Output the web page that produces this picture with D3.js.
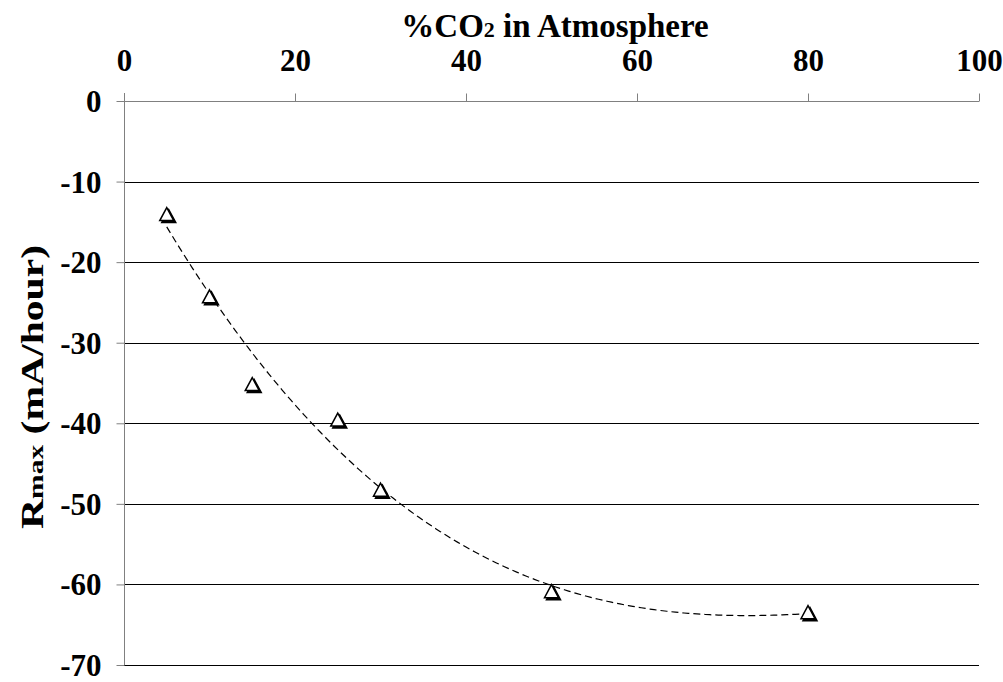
<!DOCTYPE html>
<html>
<head>
<meta charset="utf-8">
<script src="https://cdn.jsdelivr.net/npm/d3@7"></script>
<style>
  html, body { margin: 0; padding: 0; background: #fff; }
  svg { display: block; }
</style>
</head>
<body>
<svg id="chart" width="1003" height="682"></svg>
<script>
// Measured CO2 concentration (%) and the corresponding Rmax (mA/hour)
const co2Percent = [5, 10, 15, 25, 30, 50, 80];
const rMax = [-14.1, -24.3, -35.2, -39.6, -48.3, -60.9, -63.5];

const xTicks = [0, 20, 40, 60, 80, 100];
const yTicks = [0, -10, -20, -30, -40, -50, -60, -70];

const W = 1003, H = 682;
const margin = { left: 124, right: 24, top: 101, bottom: 17 };
const FONT = "'Liberation Serif', 'Times New Roman', Times, serif";

const svg = d3.select("#chart");
svg.append("rect").attr("width", W).attr("height", H).attr("fill", "#fff");

const x = d3.scaleLinear().domain([0, 100]).range([margin.left, W - margin.right]);
const y = d3.scaleLinear().domain([0, -70]).range([margin.top, H - margin.bottom]);

// Horizontal gridlines
svg.append("g")
  .selectAll("line")
  .data(yTicks.filter(v => v !== 0))
  .join("line")
  .attr("x1", x(0)).attr("x2", x(100))
  .attr("y1", d => Math.round(y(d)) + 0.5).attr("y2", d => Math.round(y(d)) + 0.5)
  .attr("stroke", "#000").attr("stroke-width", 1);

// Top axis (x)
const xAxis = svg.append("g")
  .attr("transform", `translate(0,${Math.round(y(0)) + 0.5})`)
  .call(d3.axisTop(x).tickValues(xTicks).tickSize(8).tickFormat(d => String(d)));
xAxis.attr("font-family", FONT).attr("font-size", 31).attr("font-weight", "bold");
xAxis.selectAll("path, line").attr("stroke", "#808080");
xAxis.select(".domain").attr("d", `M${x(0)},0H${x(100)}`);
xAxis.selectAll("text").attr("y", -31).attr("fill", "#000");

// Left axis (y)
const yAxis = svg.append("g")
  .attr("transform", `translate(${Math.round(x(0)) + 0.5},0)`)
  .call(d3.axisLeft(y).tickValues(yTicks).tickSize(8).tickFormat(d => String(d)));
yAxis.attr("font-family", FONT).attr("font-size", 31).attr("font-weight", "bold");
yAxis.selectAll("path, line").attr("stroke", "#808080");
yAxis.select(".domain").attr("d", `M0,${y(0) - 8}V${y(-70)}`);
yAxis.selectAll("text").attr("x", -23).attr("dy", "0.34em").attr("fill", "#000");

// Axis titles
const title = svg.append("text")
  .attr("x", 555)
  .attr("y", 37)
  .attr("text-anchor", "middle")
  .attr("font-family", FONT)
  .attr("font-weight", "bold")
  .attr("font-size", 33);
title.append("tspan").text("%CO");
title.append("tspan").attr("font-size", 22).text("2");
title.append("tspan").text(" in Atmosphere");

const yTitle = svg.append("text")
  .attr("transform", `translate(43,${(y(0) + y(-70)) / 2 + 4}) rotate(-90)`)
  .attr("text-anchor", "middle")
  .attr("font-family", FONT)
  .attr("font-weight", "bold")
  .attr("font-size", 31)
  .attr("textLength", 284)
  .attr("lengthAdjust", "spacingAndGlyphs");
yTitle.append("tspan").text("R");
yTitle.append("tspan").attr("font-size", 22).text("max");
yTitle.append("tspan").text(" (mA/hour)");

// Polynomial (order 3) least-squares trend through the measurements
function polyFit(xs, ys, order) {
  const n = order + 1;
  const A = Array.from({ length: n }, () => new Array(n + 1).fill(0));
  for (let i = 0; i < xs.length; i++) {
    for (let r = 0; r < n; r++) {
      for (let c = 0; c < n; c++) A[r][c] += Math.pow(xs[i], r + c);
      A[r][n] += ys[i] * Math.pow(xs[i], r);
    }
  }
  for (let col = 0; col < n; col++) {
    let piv = col;
    for (let r = col + 1; r < n; r++) if (Math.abs(A[r][col]) > Math.abs(A[piv][col])) piv = r;
    [A[col], A[piv]] = [A[piv], A[col]];
    for (let r = 0; r < n; r++) {
      if (r === col) continue;
      const f = A[r][col] / A[col][col];
      for (let c = col; c <= n; c++) A[r][c] -= f * A[col][c];
    }
  }
  return A.map((row, i) => row[n] / row[i]);
}
const coef = polyFit(co2Percent, rMax, 3);
const trendY = v => coef.reduce((s, c, i) => s + c * Math.pow(v, i), 0);
const xMin = d3.min(co2Percent), xMax = d3.max(co2Percent);
const trendPts = d3.range(xMin, xMax + 0.001, 0.5).map(v => [v, trendY(v)]);

svg.append("path")
  .datum(trendPts)
  .attr("d", d3.line().x(d => x(d[0])).y(d => y(d[1])))
  .attr("fill", "none")
  .attr("stroke", "#000")
  .attr("stroke-width", 1.2)
  .attr("stroke-dasharray", "7,4");

// Open triangle markers with a drop shadow
const tri = "M0,-7L7,6L-7,6Z";
const markers = svg.append("g")
  .selectAll("g")
  .data(co2Percent.map((v, i) => [v, rMax[i]]))
  .join("g")
  .attr("transform", d => `translate(${x(d[0])},${y(d[1])})`);
markers.append("path")
  .attr("d", tri)
  .attr("transform", "translate(2,2)")
  .attr("fill", "#000").attr("stroke", "#000").attr("stroke-width", 1.5);
markers.append("path")
  .attr("d", tri)
  .attr("fill", "#fff").attr("stroke", "#000").attr("stroke-width", 1.5);
</script>
</body>
</html>
